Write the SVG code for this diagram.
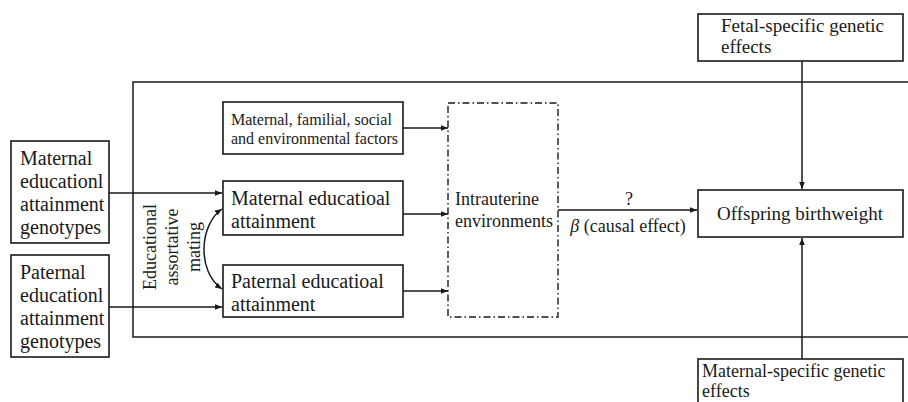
<svg xmlns="http://www.w3.org/2000/svg" width="908" height="402" viewBox="0 0 908 402">
<style>
text{font-family:'Liberation Serif','DejaVu Serif',serif;fill:#1a1a1a}
.box{fill:#fff;stroke:#1a1a1a;stroke-width:1.6}
.dash{fill:none;stroke:#1a1a1a;stroke-width:1.4;stroke-dasharray:7,3,1.5,3}
.ln{fill:none;stroke:#1a1a1a;stroke-width:1.5}
.arr{fill:none;stroke:#1a1a1a;stroke-width:1.5;marker-end:url(#ah)}
.f20{font-size:20px}.f19{font-size:19px}.f18{font-size:18px}.f16{font-size:16px}
</style>
<defs>
<marker id="ah" viewBox="0 0 10 10" refX="10" refY="5" markerWidth="7" markerHeight="7" markerUnits="userSpaceOnUse" orient="auto"><path d="M0,1 L10,5 L0,9 z" fill="#1a1a1a"/></marker>
<marker id="ahs" viewBox="0 0 10 10" refX="10" refY="5" markerWidth="7" markerHeight="7" markerUnits="userSpaceOnUse" orient="auto-start-reverse"><path d="M0,1 L10,5 L0,9 z" fill="#1a1a1a"/></marker>
</defs>
<rect width="908" height="402" fill="#fff"/>
<g id="frame"><polyline class="ln" points="912,82 133,82 133,337 912,337"/></g>
<g id="connectors">
<line class="arr" x1="109" y1="193" x2="222" y2="193"/>
<line class="arr" x1="109" y1="307" x2="222" y2="307"/>
<line class="arr" x1="403" y1="128" x2="448" y2="128"/>
<line class="arr" x1="403" y1="214" x2="448" y2="214"/>
<line class="arr" x1="403" y1="291" x2="448" y2="291"/>
<line class="arr" x1="558" y1="210" x2="697" y2="210"/>
<line class="arr" x1="802" y1="61" x2="802" y2="189"/>
<line class="arr" x1="802" y1="359" x2="802" y2="238"/>
<path class="arr" d="M222,209 C199,225 197,272 222,289" marker-start="url(#ahs)"/>
<text class="f18" x="629" y="205" text-anchor="middle">?</text>
<text class="f18" x="628" y="232" text-anchor="middle"><tspan font-style="italic">β</tspan> (causal effect)</text>
</g>
<g id="mat-geno"><rect class="box" x="11" y="141" width="98" height="102"/>
<text class="f20" x="20" y="165">Maternal</text><text class="f20" x="20" y="188">educationl</text><text class="f20" x="20" y="211">attainment</text><text class="f20" x="20" y="234">genotypes</text></g>
<g id="pat-geno"><rect class="box" x="11" y="255" width="98" height="102"/>
<text class="f20" x="20" y="279">Paternal</text><text class="f20" x="20" y="302">educationl</text><text class="f20" x="20" y="325">attainment</text><text class="f20" x="20" y="348">genotypes</text></g>
<g id="mating">
<text class="f18" text-anchor="middle" transform="translate(156,247) rotate(-90)">Educational</text>
<text class="f18" text-anchor="middle" transform="translate(178,247) rotate(-90)">assortative</text>
<text class="f18" text-anchor="middle" transform="translate(200,247) rotate(-90)">mating</text></g>
<g id="factors"><rect class="box" x="223" y="102" width="180" height="52"/>
<text class="f16" x="231" y="125">Maternal, familial, social</text><text class="f16" x="231" y="144">and environmental factors</text></g>
<g id="mat-edu"><rect class="box" x="223" y="181" width="180" height="54"/>
<text class="f20" x="231" y="205">Maternal educatioal</text><text class="f20" x="231" y="228">attainment</text></g>
<g id="pat-edu"><rect class="box" x="223" y="265" width="180" height="52"/>
<text class="f20" x="231" y="288">Paternal educatioal</text><text class="f20" x="231" y="311">attainment</text></g>
<g id="intra"><rect class="dash" x="448" y="103" width="110" height="214"/>
<text class="f18" x="455" y="205">Intrauterine</text><text class="f18" x="455" y="227">environments</text></g>
<g id="offspring"><rect class="box" x="698" y="190" width="205" height="47"/>
<text class="f19" x="800" y="220" text-anchor="middle">Offspring birthweight</text></g>
<g id="fetal"><rect class="box" x="698" y="14" width="205" height="47"/>
<text class="f19" x="721" y="32">Fetal-specific genetic</text><text class="f19" x="721" y="53">effects</text></g>
<g id="mat-spec"><rect class="box" x="698" y="359" width="205" height="50"/>
<text class="f18" x="702" y="377">Maternal-specific genetic</text><text class="f18" x="702" y="397">effects</text></g>
</svg>
